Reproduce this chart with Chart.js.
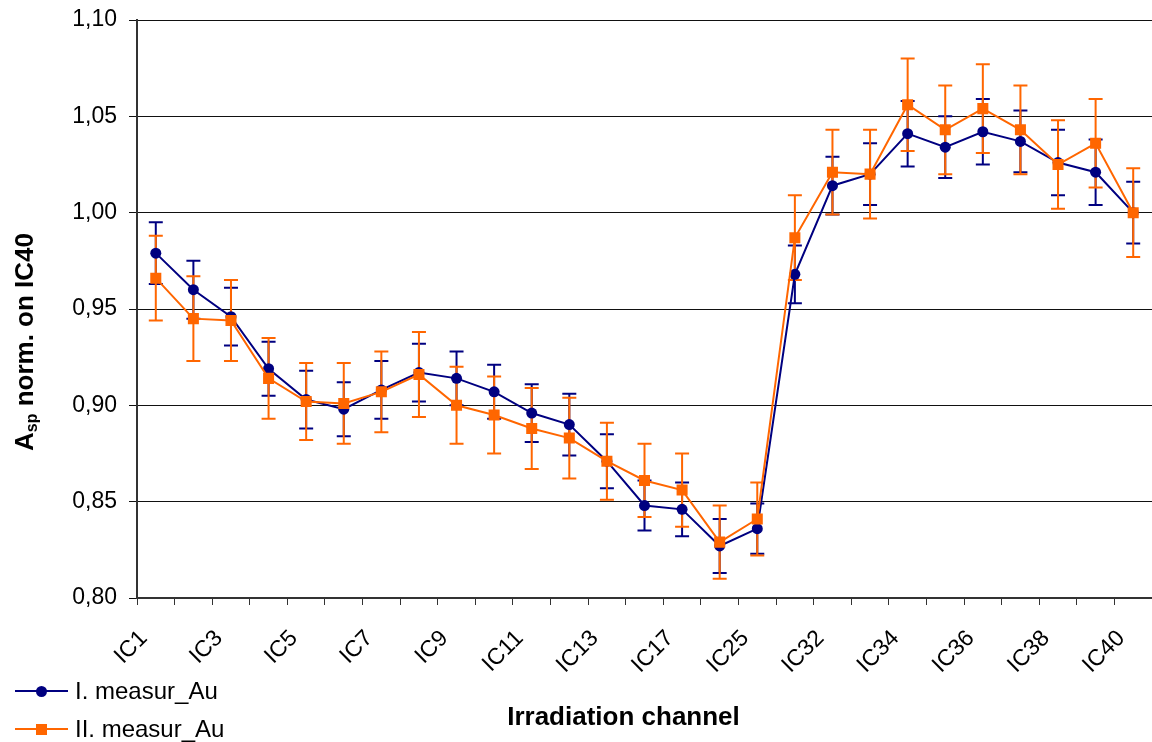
<!DOCTYPE html>
<html><head><meta charset="utf-8">
<script src="https://cdn.jsdelivr.net/npm/chart.js@4.4.0/dist/chart.umd.min.js"></script>
<style>
html,body{margin:0;padding:0;background:#fff;}
#wrap{position:relative;width:1152px;height:742px;overflow:hidden;}
#legend{position:absolute;left:15px;top:672px;font-family:"Liberation Sans",Arial,sans-serif;font-size:24px;color:#000;}
.item{display:flex;align-items:center;height:38px;}
.sym{position:relative;width:53px;height:38px;}
.sym .ln{position:absolute;left:0;right:0;top:18px;height:2px;}
.sym .mk{position:absolute;left:21px;top:14px;width:11px;height:11px;}
.txt{margin-left:7px;white-space:nowrap;}
</style></head>
<body>
<div id="wrap">
<canvas id="c" width="1152" height="742"></canvas>
<div id="legend">
  <div class="item"><div class="sym"><div class="ln" style="background:#000080"></div><div class="mk" style="background:#000080;border-radius:50%"></div></div><span class="txt">I. measur_Au</span></div>
  <div class="item"><div class="sym"><div class="ln" style="background:#FF6600"></div><div class="mk" style="background:#FF6600"></div></div><span class="txt">II. measur_Au</span></div>
</div>
</div>
<script>
const channels = ["IC1","IC2","IC3","IC4","IC5","IC6","IC7","IC8","IC9","IC10","IC11","IC12","IC13","IC15","IC17","IC19","IC25","IC31","IC32","IC33","IC34","IC35","IC36","IC37","IC38","IC39","IC40"];
const seriesI  = [0.979,0.960,0.946,0.919,0.903,0.898,0.908,0.917,0.914,0.907,0.896,0.890,0.871,0.848,0.846,0.827,0.836,0.968,1.014,1.020,1.041,1.034,1.042,1.037,1.026,1.021,1.000];
const errI     = [0.016,0.015,0.015,0.014,0.015,0.014,0.015,0.015,0.014,0.014,0.015,0.016,0.014,0.013,0.014,0.014,0.013,0.015,0.015,0.016,0.017,0.016,0.017,0.016,0.017,0.017,0.016];
const seriesII = [0.966,0.945,0.944,0.914,0.902,0.901,0.907,0.916,0.900,0.895,0.888,0.883,0.871,0.861,0.856,0.829,0.841,0.987,1.021,1.020,1.056,1.043,1.054,1.043,1.025,1.036,1.000];
const errII    = [0.022,0.022,0.021,0.021,0.020,0.021,0.021,0.022,0.020,0.020,0.021,0.021,0.020,0.019,0.019,0.019,0.019,0.022,0.022,0.023,0.024,0.023,0.023,0.023,0.023,0.023,0.023];
const seriesNames = ["I. measur_Au","II. measur_Au"];
const yMin = 0.80, yMax = 1.10, yStep = 0.05;
const xTitle = "Irradiation channel";
const yTitleMain = "A", yTitleSub = "sp", yTitleRest = " norm. on IC40";

const NAVY = "#000080", ORANGE = "#FF6600";
const FONT = '"Liberation Sans", Arial, sans-serif';

const errorBars = {
  id: 'errorBars',
  beforeDatasetsDraw(chart) {
    const ctx = chart.ctx, xs = chart.scales.x, ys = chart.scales.y;
    const sets = [{v: seriesI, e: errI, c: NAVY}, {v: seriesII, e: errII, c: ORANGE}];
    ctx.save();
    ctx.lineWidth = 2;
    sets.forEach(s => {
      ctx.strokeStyle = s.c;
      s.v.forEach((v, i) => {
        const px = xs.getPixelForValue(i);
        const t = ys.getPixelForValue(v + s.e[i]);
        const b = ys.getPixelForValue(v - s.e[i]);
        ctx.beginPath();
        ctx.moveTo(px, t); ctx.lineTo(px, b);
        ctx.moveTo(px - 7, t); ctx.lineTo(px + 7, t);
        ctx.moveTo(px - 7, b); ctx.lineTo(px + 7, b);
        ctx.stroke();
      });
    });
    ctx.restore();
  }
};

const titles = {
  id: 'titles',
  afterDraw(chart) {
    const ctx = chart.ctx, ca = chart.chartArea;
    ctx.save();
    ctx.fillStyle = '#000';
    ctx.font = 'bold 26px ' + FONT;
    ctx.textAlign = 'center';
    ctx.textBaseline = 'middle';
    ctx.fillText(xTitle, (ca.left + ca.right) / 2 - 21, 718);
    const big = 'bold 26px ' + FONT, small = 'bold 16px ' + FONT;
    ctx.font = big; const w1 = ctx.measureText(yTitleMain).width; const w3 = ctx.measureText(yTitleRest).width;
    ctx.font = small; const w2 = ctx.measureText(yTitleSub).width;
    const total = w1 + w2 + w3;
    ctx.translate(24, ca.top + 322);
    ctx.rotate(-Math.PI / 2);
    ctx.textAlign = 'left';
    ctx.textBaseline = 'alphabetic';
    let x0 = -total / 2;
    const base = 9;
    ctx.font = big; ctx.fillText(yTitleMain, x0, base); x0 += w1;
    ctx.font = small; ctx.fillText(yTitleSub, x0, base + 4); x0 += w2;
    ctx.font = big; ctx.fillText(yTitleRest, x0, base);
    ctx.restore();
  }
};

new Chart(document.getElementById('c'), {
  type: 'line',
  data: {
    labels: channels,
    datasets: [
      {label: seriesNames[0], data: seriesI, borderColor: NAVY, backgroundColor: NAVY, borderWidth: 2,
       pointStyle: 'circle', pointRadius: 5.5, pointBackgroundColor: NAVY, pointBorderColor: NAVY, pointBorderWidth: 0, tension: 0, order: 1},
      {label: seriesNames[1], data: seriesII, borderColor: ORANGE, backgroundColor: ORANGE, borderWidth: 2,
       pointStyle: 'rect', pointRadius: 7.8, pointBackgroundColor: ORANGE, pointBorderColor: ORANGE, pointBorderWidth: 0, tension: 0, order: 0}
    ]
  },
  options: {
    responsive: false,
    animation: false,
    devicePixelRatio: 1,
    events: [],
    layout: {autoPadding: false, padding: {top: 20, right: 0, bottom: 0, left: 0}},
    plugins: {legend: {display: false}, tooltip: {enabled: false}, title: {display: false}},
    scales: {
      x: {
        type: 'category',
        offset: true,
        grid: {display: true, offset: true, drawOnChartArea: false, drawTicks: true, tickLength: 7, color: '#333', lineWidth: 1},
        border: {display: true, color: '#333', width: 2},
        ticks: {
          autoSkip: false, minRotation: 45, maxRotation: 45, padding: 20, labelOffset: -12,
          color: '#000', font: {family: FONT, size: 23},
          callback: function(v, i) { return i % 2 === 0 ? channels[i] : ''; }
        },
        afterFit(scale) { scale.height = 144; scale.paddingLeft = 0; scale.paddingRight = 0; }
      },
      y: {
        min: yMin, max: yMax,
        grid: {color: '#111', lineWidth: 1, tickLength: 8, drawTicks: true},
        border: {display: true, color: '#333', width: 2},
        ticks: {
          stepSize: yStep, padding: 12, color: '#000', font: {family: FONT, size: 23},
          callback: v => v.toFixed(2).replace('.', ',')
        },
        afterFit(scale) { scale.width = 137; scale.paddingTop = 0; scale.paddingBottom = 0; }
      }
    }
  },
  plugins: [errorBars, titles]
});
</script>
</body></html>
